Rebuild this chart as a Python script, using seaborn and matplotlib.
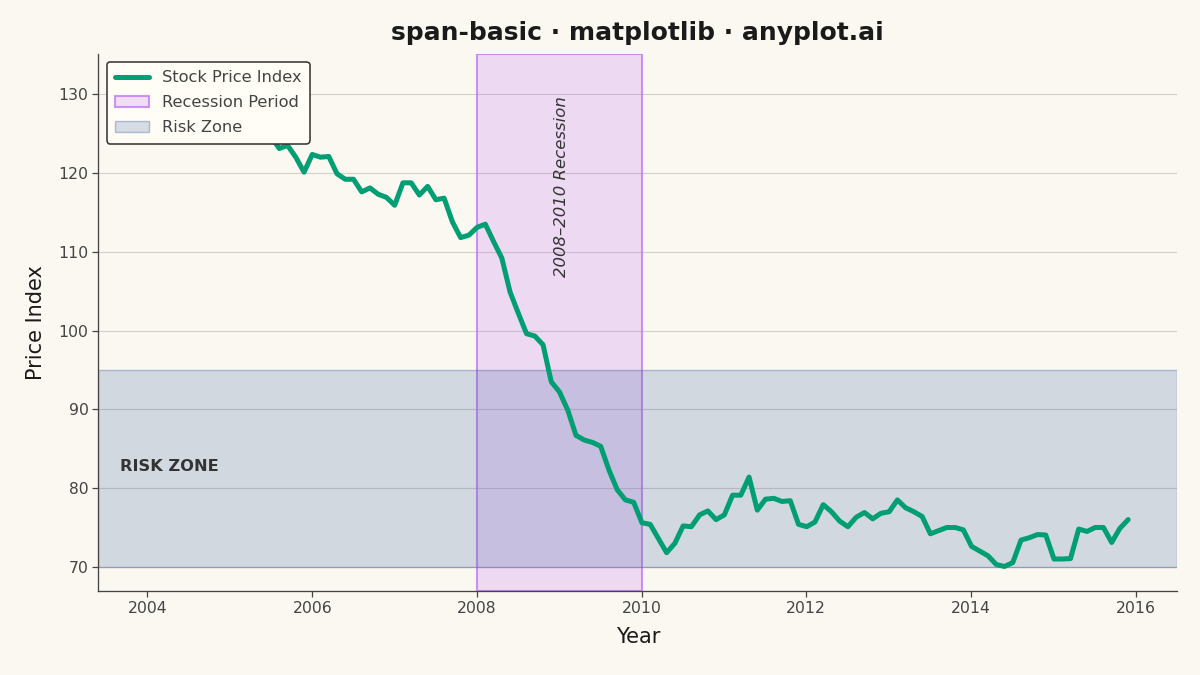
import pandas as pd
import matplotlib.pyplot as plt
import matplotlib.dates as mdates
import seaborn as sns

# Price index, roughly every 0.1 year from Jan 2004 to late 2015
price = [
    132.0, 131.2, 131.6, 130.4, 129.8, 130.3, 129.1, 128.4, 128.9, 127.6,
    127.0, 127.5, 126.2, 125.6, 125.9, 124.6, 123.1, 123.5, 122.0, 120.1,
    122.35, 122.0, 122.1, 119.9, 119.2, 119.2, 117.6, 118.1, 117.3, 116.9,
    115.9, 118.75, 118.75, 117.2, 118.3, 116.6, 116.8, 113.8, 111.8, 112.1,
    113.1, 113.5, 111.3, 109.2, 104.9, 102.2, 99.6, 99.3, 98.2, 93.5,
    92.2, 89.9, 86.7, 86.1, 85.8, 85.3, 82.3, 79.8, 78.5, 78.2,
    75.6, 75.4, 73.6, 71.8, 73.0, 75.2, 75.1, 76.6, 77.1, 76.0,
    76.6, 79.1, 79.1, 81.4, 77.2, 78.6, 78.7, 78.3, 78.4, 75.4,
    75.1, 75.7, 77.9, 77.0, 75.8, 75.1, 76.3, 76.9, 76.1, 76.8,
    77.0, 78.5, 77.5, 77.0, 76.4, 74.2, 74.6, 75.0, 75.0, 74.7,
    72.6, 72.0, 71.4, 70.3, 70.05, 70.55, 73.4, 73.7, 74.1, 74.05,
    71.0, 71.0, 71.05, 74.8, 74.5, 75.0, 75.0, 73.1, 74.9, 76.0,
]
dates = pd.date_range("2004-01-01", "2015-11-28", periods=len(price))

recession = ("2008-01-01", "2010-01-01")
risk_zone = (70, 95)

df = pd.DataFrame({"Year": dates, "Price Index": price})

bg = "#FAF8F1"
sns.set_theme(style="ticks")
plt.rcParams.update({
    "figure.facecolor": bg,
    "axes.facecolor": bg,
    "axes.edgecolor": "#444444",
    "xtick.color": "#444444",
    "ytick.color": "#444444",
    "font.family": ["DejaVu Sans"],
})

fig, ax = plt.subplots(figsize=(16, 9), dpi=75)
fig.subplots_adjust(left=0.082, right=0.981, top=0.92, bottom=0.124)

ax.axvspan(pd.Timestamp(recession[0]), pd.Timestamp(recession[1]),
           facecolor=(0.725, 0.365, 0.965, 0.2),
           edgecolor=(0.73, 0.42, 0.96, 0.7), linewidth=2,
           label="Recession Period", zorder=1)
ax.axhspan(risk_zone[0], risk_zone[1],
           facecolor=(0.196, 0.345, 0.61, 0.2),
           edgecolor=(0.196, 0.345, 0.61, 0.35), linewidth=1.3,
           label="Risk Zone", zorder=1)

sns.lineplot(data=df, x="Year", y="Price Index", color="#009E73",
             linewidth=4.8, label="Stock Price Index", ax=ax, zorder=3)

ax.text(pd.Timestamp("2009-01-10"), 129.7, "2008\u20132010 Recession",
        rotation=90, ha="center", va="top", fontsize=15.8,
        style="italic", color="#333333")
ax.text(0.02, 82.7, "RISK ZONE", transform=ax.get_yaxis_transform(),
        ha="left", va="center", fontsize=15.6, fontweight="bold", color="#333333")

ax.xaxis.set_major_locator(mdates.YearLocator(2))
ax.xaxis.set_major_formatter(mdates.DateFormatter("%Y"))
ax.set_yticks([70, 80, 90, 100, 110, 120, 130])
ax.yaxis.grid(True, color="#CFCCC6", linewidth=1.1, alpha=0.9)
ax.set_axisbelow(True)
ax.tick_params(labelsize=15, length=6, width=1.2)

ax.set_title("span-basic \u00b7 matplotlib \u00b7 anyplot.ai",
             fontsize=24, fontweight="bold", color="#1A1A1A", pad=13)
ax.set_xlabel("Year", fontsize=20, color="#1A1A1A", labelpad=10)
ax.set_ylabel("Price Index", fontsize=20, color="#1A1A1A", labelpad=12)

handles, labels = ax.get_legend_handles_labels()
order = [labels.index(l) for l in ["Stock Price Index", "Recession Period", "Risk Zone"]]
leg = ax.legend([handles[i] for i in order], [labels[i] for i in order],
                loc="upper left", fontsize=15.6, frameon=True, handlelength=2.1,
                labelspacing=0.62, borderpad=0.5, borderaxespad=0.5,
                facecolor="#FFFDF6", edgecolor="#333333", framealpha=1)
leg.get_frame().set_linewidth(1.5)
for t in leg.get_texts():
    t.set_color("#444444")

sns.despine(ax=ax)
plt.savefig("out.png", dpi=75, facecolor=bg)
plt.close()
